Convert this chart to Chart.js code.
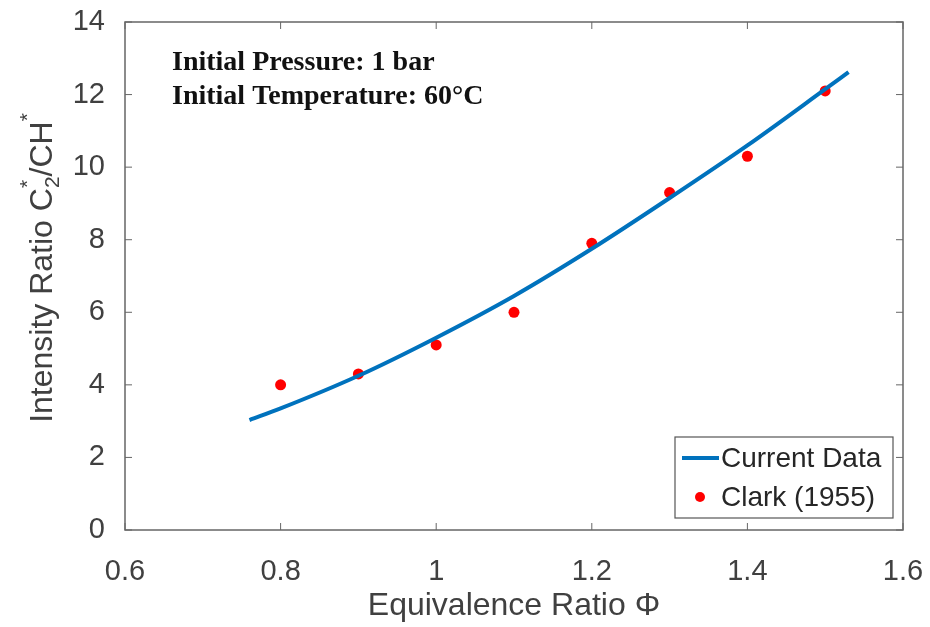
<!DOCTYPE html>
<html>
<head>
<meta charset="utf-8">
<script src="https://cdn.jsdelivr.net/npm/chart.js@4/dist/chart.umd.min.js"></script>
<style>
  body { margin: 0; background: #fff; }
  #wrap { width: 930px; height: 627px; }
</style>
</head>
<body>
<div id="wrap"><canvas id="c2Chart" width="930" height="627"></canvas></div>
<script>
// Current Data curve
const curvePhi = [0.76, 0.8, 0.9, 1.0, 1.1, 1.2, 1.3, 1.4, 1.5, 1.53];
const curveRatio = [3.03, 3.35, 4.25, 5.3, 6.45, 7.75, 9.15, 10.6, 12.15, 12.62];

// Clark (1955)
const clarkPhi = [0.8, 0.9, 1.0, 1.1, 1.2, 1.3, 1.4, 1.5];
const clarkRatio = [4.0, 4.3, 5.1, 6.0, 7.9, 9.3, 10.3, 12.1];

const seriesLabels = ["Current Data", "Clark (1955)"];
const noteLines = ["Initial Pressure: 1 bar", "Initial Temperature: 60\u00B0C"];

const axisColor = "#404040";
const sans = "'Liberation Sans', Arial, sans-serif";

// box, inward ticks, notes, legend, axis titles (MATLAB look)
const matlabBits = {
    id: "matlabBits",
    afterDatasetsDraw(chart) {
        const ctx = chart.ctx;
        const a = chart.chartArea;
        const xs = chart.scales.x, ys = chart.scales.y;
        ctx.save();
        ctx.strokeStyle = "#666";
        ctx.lineWidth = 1.5;
        ctx.strokeRect(a.left, a.top, a.right - a.left, a.bottom - a.top);
        ctx.lineWidth = 1;
        const tl = 7;
        xs.ticks.forEach(t => {
            const px = xs.getPixelForValue(t.value);
            ctx.beginPath();
            ctx.moveTo(px, a.bottom); ctx.lineTo(px, a.bottom - tl);
            ctx.moveTo(px, a.top); ctx.lineTo(px, a.top + tl);
            ctx.stroke();
        });
        ys.ticks.forEach(t => {
            const py = ys.getPixelForValue(t.value);
            ctx.beginPath();
            ctx.moveTo(a.left, py); ctx.lineTo(a.left + tl, py);
            ctx.moveTo(a.right, py); ctx.lineTo(a.right - tl, py);
            ctx.stroke();
        });

        // notes
        ctx.fillStyle = "#111";
        ctx.font = "bold 28px 'Liberation Serif', 'DejaVu Serif', serif";
        ctx.textAlign = "left";
        ctx.textBaseline = "alphabetic";
        ctx.fillText(noteLines[0], 172, 70);
        ctx.fillText(noteLines[1], 172, 104);

        // legend
        const lx = 675, ly = 437, lw = 218, lh = 81;
        ctx.fillStyle = "#fff";
        ctx.fillRect(lx, ly, lw, lh);
        ctx.strokeStyle = "#555";
        ctx.lineWidth = 1.2;
        ctx.strokeRect(lx, ly, lw, lh);
        const ds = chart.data.datasets;
        ctx.strokeStyle = ds[0].borderColor;
        ctx.lineWidth = 4;
        ctx.beginPath();
        ctx.moveTo(682, 458); ctx.lineTo(719, 458);
        ctx.stroke();
        ctx.fillStyle = ds[1].backgroundColor;
        ctx.beginPath();
        ctx.arc(700, 497, 5, 0, Math.PI * 2);
        ctx.fill();
        ctx.fillStyle = "#262626";
        ctx.font = "28px " + sans;
        ctx.textBaseline = "middle";
        ctx.fillText(ds[0].label, 721, 459);
        ctx.fillText(ds[1].label, 721, 498);

        // x title
        ctx.fillStyle = axisColor;
        ctx.font = "32px " + sans;
        ctx.textAlign = "center";
        ctx.fillText("Equivalence Ratio \u03A6", (a.left + a.right) / 2, 606);

        // y title with sub/superscripts
        ctx.translate(43, 268);
        ctx.rotate(-Math.PI / 2);
        const big = "32px " + sans;
        const small = "21px " + sans;
        const parts = [
            { t: "Intensity Ratio C", f: big, dy: 0 },
            { t: "2", f: small, dy: 10 },
            { t: "*", f: small, dy: -15, back: true },
            { t: "/CH", f: big, dy: 0 },
            { t: "*", f: small, dy: -15 }
        ];
        let total = 0;
        const widths = parts.map(p => { ctx.font = p.f; return ctx.measureText(p.t).width; });
        parts.forEach((p, i) => { if (!p.back) total += widths[i]; });
        let x = -total / 2;
        ctx.textAlign = "left";
        let prevW = 0;
        parts.forEach((p, i) => {
            ctx.font = p.f;
            const px = p.back ? x - prevW : x;
            ctx.fillText(p.t, px, p.dy);
            if (!p.back) { x += widths[i]; prevW = widths[i]; }
        });
        ctx.restore();
    }
};

const toXY = (xs, ys) => xs.map((v, i) => ({ x: v, y: ys[i] }));

new Chart(document.getElementById("c2Chart"), {
    type: "scatter",
    data: {
        datasets: [
            {
                label: seriesLabels[0],
                data: toXY(curvePhi, curveRatio),
                showLine: true,
                borderColor: "#0072BD",
                backgroundColor: "#0072BD",
                borderWidth: 4,
                pointRadius: 0,
                cubicInterpolationMode: "monotone",
            },
            {
                label: seriesLabels[1],
                data: toXY(clarkPhi, clarkRatio),
                backgroundColor: "#FF0000",
                borderColor: "#FF0000",
                pointRadius: 5.5,
                pointBorderWidth: 0,
            },
        ],
    },
    options: {
        responsive: false,
        animation: false,
        layout: { padding: { left: 0, top: 22, right: 27, bottom: 0 } },
        plugins: { legend: { display: false }, tooltip: { enabled: false } },
        scales: {
            x: {
                type: "linear",
                min: 0.6,
                max: 1.6,
                grid: { display: false },
                border: { display: false },
                ticks: {
                    stepSize: 0.2,
                    color: axisColor,
                    font: { family: sans, size: 29 },
                    padding: 17,
                    maxRotation: 0,
                    callback: v => String(+v.toFixed(1)),
                },
                afterFit: s => { s.height = 97; s.paddingLeft = 0; s.paddingRight = 0; },
            },
            y: {
                min: 0,
                max: 14,
                grid: { display: false },
                border: { display: false },
                ticks: {
                    stepSize: 2,
                    color: axisColor,
                    font: { family: sans, size: 29 },
                    padding: 12,
                },
                afterFit: s => { s.width = 125; s.paddingTop = 0; s.paddingBottom = 0; },
            },
        },
    },
    plugins: [matlabBits],
});
</script>
</body>
</html>
